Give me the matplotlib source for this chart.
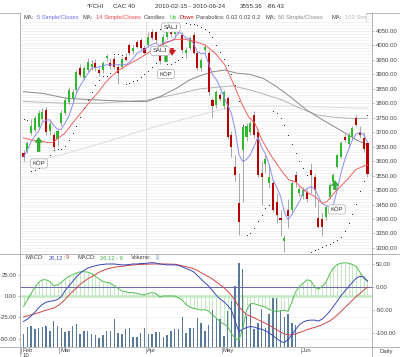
import numpy as np
import pandas as pd
import matplotlib
matplotlib.use("Agg")
import matplotlib.pyplot as plt
from matplotlib.lines import Line2D
from matplotlib.patches import Rectangle
from matplotlib.ticker import FormatStrFormatter
from matplotlib.transforms import Bbox, TransformedBbox, blended_transform_factory

plt.rcParams['font.family'] = ['Liberation Sans', 'DejaVu Sans']

# ---------------- data ----------------
holidays = ['2010-04-02', '2010-04-05']
dates = pd.bdate_range('2010-02-15', '2010-06-24')
dates = dates[~dates.isin(pd.to_datetime(holidays))]

opens = [3628, 3635, 3697, 3708, 3718, 3745, 3777, 3705, 3690, 3677,
         3732, 3767, 3805, 3815, 3846, 3922, 3888, 3915, 3925, 3940,
         3915, 3915, 3955, 3940, 3953, 3925, 3925, 3960, 4001, 3980,
         4012, 4019, 3990, 4002, 4046, 4046, 3985, 4000, 4030, 4045,
         4040, 4050, 4036, 3975, 3991, 4036, 3974, 3922, 3985, 3974,
         3811, 3795, 3830, 3790, 3818, 3690, 3580, 3455, 3639, 3685,
         3700, 3760, 3700, 3560, 3590, 3525, 3525, 3460, 3405, 3325,
         3430, 3431, 3552, 3490, 3480, 3495, 3570, 3545, 3405, 3400,
         3407, 3476, 3527, 3580, 3614, 3685, 3660, 3685, 3750, 3700,
         3680, 3663]
highs = [3640, 3670, 3746, 3755, 3775, 3782, 3787, 3742, 3700, 3712,
         3775, 3820, 3855, 3850, 3915, 3935, 3930, 3955, 3948, 3952,
         3925, 3945, 3972, 3955, 3962, 3935, 3960, 3975, 4010, 4000,
         4020, 4025, 4000, 4045, 4055, 4050, 3995, 4040, 4052, 4055,
         4065, 4078, 4045, 3995, 4032, 4045, 3980, 3958, 4005, 3985,
         3818, 3845, 3840, 3845, 3825, 3705, 3620, 3560, 3725, 3732,
         3740, 3772, 3710, 3600, 3620, 3585, 3535, 3490, 3430, 3345,
         3470, 3535, 3565, 3515, 3510, 3505, 3595, 3555, 3466, 3420,
         3450, 3525, 3560, 3625, 3670, 3695, 3700, 3720, 3760, 3720,
         3700, 3665]
lows = [3600, 3628, 3692, 3700, 3710, 3738, 3690, 3690, 3643, 3652,
        3722, 3760, 3798, 3800, 3840, 3890, 3880, 3908, 3915, 3912,
        3895, 3905, 3945, 3920, 3918, 3868, 3918, 3945, 3968, 3972,
        3990, 3985, 3970, 3995, 4018, 4010, 3935, 3995, 4022, 4030,
        4030, 4040, 3975, 3955, 3985, 3970, 3915, 3912, 3975, 3830,
        3750, 3785, 3808, 3780, 3675, 3615, 3530, 3345, 3460, 3670,
        3690, 3680, 3545, 3450, 3560, 3507, 3425, 3385, 3340, 3285,
        3370, 3420, 3510, 3480, 3470, 3460, 3490, 3440, 3370, 3340,
        3395, 3470, 3520, 3575, 3610, 3665, 3645, 3675, 3720, 3680,
        3630, 3545]
closes = [3614, 3663, 3722, 3749, 3766, 3770, 3701, 3728, 3648, 3705,
          3767, 3811, 3846, 3839, 3908, 3898, 3922, 3943, 3935, 3922,
          3905, 3940, 3965, 3930, 3925, 3905, 3953, 3950, 3974, 3990,
          3995, 3991, 3975, 4030, 4025, 4019, 3945, 4030, 4045, 4040,
          4058, 4062, 3984, 3985, 4025, 3974, 3922, 3950, 3995, 3839,
          3790, 3839, 3815, 3839, 3683, 3650, 3552, 3390, 3718, 3720,
          3732, 3690, 3552, 3545, 3607, 3545, 3431, 3415, 3395, 3335,
          3410, 3525, 3527, 3505, 3500, 3470, 3552, 3500, 3372, 3372,
          3441, 3517, 3552, 3621, 3663, 3673, 3690, 3715, 3725, 3690,
          3642, 3555]
volume_m = [78, 120, 126, 108, 114, 120, 126, 96, 156, 126,
            114, 90, 96, 126, 138, 78, 96, 96, 78, 72,
            54, 72, 96, 96, 168, 84, 78, 108, 114, 60,
            60, 84, 114, 78, 78, 90, 90, 60, 72, 96,
            108, 108, 180, 84, 114, 114, 174, 144, 96, 132,
            222, 168, 168, 66, 216, 276, 366, 504, 468, 186,
            258, 108, 144, 228, 114, 198, 294, 294, 216, 180,
            198, 144, 132, 0, 0, 0, 0, 0, 0, 0,
            0, 0, 0, 0, 0, 0, 0, 0, 0, 0,
            0, 0]
macd = [-75, -70, -63, -55, -45, -38, -33, -31, -30, -27,
        -21, -8, 2, 12, 22, 30, 36, 41, 44, 46,
        48, 49, 50, 50, 50, 49, 48, 48, 49, 50,
        50, 51, 51, 52, 53, 52, 50, 49, 48, 48,
        48, 47, 44, 40, 37, 33, 25, 17, 9, 2,
        -8, -18, -26, -32, -40, -50, -75, -97, -92, -88,
        -86, -87, -90, -92, -95, -100, -106, -112, -118, -121,
        -114, -104, -92, -82, -76, -73, -72, -72, -74, -70,
        -62, -53, -42, -31, -19, -9, 0, 10, 19, 23,
        22, 13]
macd_signal = [-65, -63, -60.5, -58.5, -56, -53, -50.5, -48, -46, -41,
               -35, -27, -18, -10, -2, 6, 12, 18, 22, 27,
               32, 36, 39, 41, 43, 44, 45, 46, 47, 48,
               48.5, 49, 49.5, 49.5, 50, 50, 50, 50, 50, 49.5,
               49.5, 48, 46, 44, 42, 40, 36, 31, 27, 22,
               17, 11, 5, -1, -9, -18, -30, -43, -52, -60,
               -63, -67, -71, -75, -79, -83, -88, -93, -98, -102,
               -104, -104, -102, -99, -96, -93, -90, -88, -85, -82,
               -78, -74, -68, -61, -53, -45, -37, -29, -21, -14,
               -7, 0]
macd_hist = [-12, -5, 3, 10, 16, 19, 19, 17, 12, 13,
             16, 20, 23, 25, 27, 28.5, 28.5, 28, 26.5, 23,
             20, 17, 16, 15, 12, 9, 6, 5, 4, 4,
             3, 2, 1, 3, 4, 3, -1, 0, 0, 0,
             0, -2, -5, -10, -13, -14.5, -15.5, -16.5, -16, -18,
             -22, -26, -30, -33, -36, -44, -50, -52, -38, -17,
             -9, -9, -10.5, -12, -13, -16, -17, -18.5, -17, -17,
             -18, -7, 5, 11, 15, 19, 18, 11, 8, 11,
             16, 26, 33, 37, 38.5, 39, 38.5, 37, 35, 28,
             21, 17]

ma14_day = [0, 2.1, 4.3, 6.5, 7.8, 9.1, 10.9, 12.6, 14.4, 16.2, 17.9, 19.7, 21.5, 23.2, 25, 26.8,
            28.5, 30.3, 32.1, 34.8, 37.4, 40.1, 42.7, 45.4, 48, 50.7, 53.3, 55.9, 57.7, 59.5, 61.2,
            63.1, 65.7, 68.4, 70.2, 71.9, 73.7, 75.4, 77.2, 79, 80.3, 82.1, 84.3, 86, 87.8, 89.6, 91]
ma14_val = [3680, 3673, 3670, 3664, 3664, 3679, 3696, 3725, 3754, 3783, 3811, 3837, 3869, 3892, 3913, 3927,
            3940, 3952, 3967, 3990, 4007, 4021, 4021, 4013, 4002, 3973, 3932, 3857, 3800, 3754, 3731,
            3673, 3615, 3564, 3535, 3529, 3506, 3489, 3477, 3454, 3460, 3489, 3518, 3541, 3570, 3581, 3587]
ma50_day = [0, 5.2, 11.4, 20.2, 29, 32.7, 36.1, 40.5, 44, 46.7, 50.1, 53.3, 56.4, 59.9, 63.4,
            67, 70.5, 74.9, 79.2, 83.7, 88.1, 91]
ma50_val = [3840, 3834, 3817, 3811, 3806, 3806, 3823, 3852, 3881, 3895, 3909, 3915, 3904, 3900, 3886,
            3857, 3823, 3777, 3742, 3708, 3673, 3656]
ma100_day = [0, 11.4, 20.2, 32.7, 41.4, 46.7, 55.4, 59.9, 64.3, 68.7, 73.1, 77.5, 81.9, 86.3, 91]
ma100_val = [3806, 3800, 3800, 3811, 3834, 3850, 3860, 3846, 3829, 3810, 3783, 3760, 3752, 3748, 3748]
ma200_day = [0, 7.3, 20.2, 33.5, 46.7, 55.4, 59.9, 68.7, 81.9, 91]
ma200_val = [3595, 3612, 3660, 3714, 3760, 3788, 3790, 3790, 3786, 3783]

sar_params = (0.02, 0.02, 0.2)
sar_start, sar_ep_start = 3745, 3565

sig_day = [4.1, 36.1, 37.7, 39.0, 82.9]
sig_text = ['KÖP', 'SÄLJ', 'KÖP', 'SÄLJ', 'KÖP']
sig_price = [3592, 3981, 3901, 4062, 3433]
arrow_day = [4, 37.7, 39.3, 82.4]
arrow_from = [3632, 3943, 3991, 3500]
arrow_to = [3684, 4002, 3964, 3535]

price_ticks = list(range(3300, 4051, 50))
hist_ticks = [25, 0, -25, -50]
macd_ticks = [50, 0, -50, -100]

# ---------------- helpers ----------------
def parabolic_sar(high, low, af0, step, afmax, sar0, ep0):
    n = len(high)
    out = np.zeros(n)
    trend, sar, ep, af = -1, sar0, ep0, af0
    out[0] = sar
    for t in range(1, n):
        s = sar + af * (ep - sar)
        if trend == 1:
            s = min(s, low[t - 1], low[max(t - 2, 0)])
            if low[t] < s:
                trend, s, ep, af = -1, ep, low[t], af0
            elif high[t] > ep:
                ep, af = high[t], min(af + step, afmax)
        else:
            s = max(s, high[t - 1], high[max(t - 2, 0)])
            if high[t] > s:
                trend, s, ep, af = 1, ep, high[t], af0
            elif low[t] < ep:
                ep, af = low[t], min(af + step, afmax)
        sar = s
        out[t] = s
    return out

W, H = 400, 357
def fx(px):
    return px / W
def fy(py):
    return 1 - py / H

n = len(closes)
xs = np.arange(n)
o = np.array(opens, float); hi = np.array(highs, float)
lo = np.array(lows, float); c = np.array(closes, float)
ma5 = pd.Series(closes, dtype=float).rolling(5, min_periods=1).mean()
sar = parabolic_sar(hi, lo, *sar_params, sar_start, sar_ep_start)

months = dates.month
month_idx = [0] + [i for i in range(1, n) if months[i] != months[i - 1]]
month_lbl = [dates[i].strftime('%b') for i in month_idx]
apr_idx = month_idx[month_lbl.index('Apr')]

TXT = '#444444'
FS = 4.3
GREEN = '#2dbb2d'
RED = '#b80000'

fig = plt.figure(figsize=(4, 3.57), dpi=100)
fig.patch.set_facecolor('white')

ax_p = fig.add_axes([fx(20), fy(254), (372 - 20) / W, (254 - 13) / H])
ax_m = fig.add_axes([fx(20), fy(347), (372 - 20) / W, (347 - 254) / H])
XL = (-0.93, 92.2)

# ---------------- price panel ----------------
ax_p.set_xlim(*XL)
ax_p.set_ylim(3279, 4112)
for v in range(3280, 4112, 10):
    ax_p.axhline(v, color='#eeeeee', lw=0.5, zorder=0)
ax_p.axvline(apr_idx - 0.5, color='#dddddd', lw=0.6, zorder=0)

ax_p.plot(ma200_day, ma200_val, color='#dcdcdc', lw=0.7, zorder=1)
ax_p.plot(ma100_day, ma100_val, color='#b4b4b4', lw=0.7, zorder=1)
ax_p.plot(ma50_day, ma50_val, color='#8a8a8a', lw=0.7, zorder=1)

ax_p.vlines(xs, lo, hi, color='#9a9a9a', lw=0.6, zorder=2)
up = c >= o
body_col = np.where(up, GREEN, RED)
ax_p.bar(xs, np.where(np.abs(c - o) < 2, 2, c - o), bottom=o, width=0.55,
         color=body_col, lw=0, zorder=3)

ax_p.plot(xs, ma5, color='#8c8cf2', lw=0.7, zorder=4)
ax_p.plot(ma14_day, ma14_val, color='#ee6262', lw=0.7, zorder=4)
ax_p.scatter(xs, sar, s=0.5, color='#222222', lw=0, zorder=5)

for d, a, b in zip(arrow_day, arrow_from, arrow_to):
    col = '#33aa33' if b > a else '#cc2020'
    ax_p.annotate('', xy=(d, b), xytext=(d, a),
                  arrowprops=dict(arrowstyle='simple,head_length=0.7,head_width=1.0,tail_width=0.4',
                                  color=col, lw=0, shrinkA=0, shrinkB=0, mutation_scale=6),
                  zorder=6)
for d, t, p in zip(sig_day, sig_text, sig_price):
    ax_p.text(d, p, t, fontsize=FS, color='#333333', ha='center', va='center', zorder=7,
              bbox=dict(boxstyle='round,pad=0.35', fc='white', ec='#aaaaaa', lw=0.5))

ax_p.yaxis.tick_right()
ax_p.set_yticks(price_ticks)
ax_p.yaxis.set_major_formatter(FormatStrFormatter('%.2f'))
ax_p.tick_params(axis='y', length=1.5, width=0.5, pad=1.2, labelsize=FS,
                 colors='#999999', labelcolor=TXT)
ax_p.set_xticks([])
for s in ax_p.spines.values():
    s.set_visible(False)

# ---------------- MACD / volume panel ----------------
ax_m.set_xlim(*XL)
ax_m.set_ylim(-59.9, 49.3)
for v in [-50, -37.5, -25, -12.5, 12.5, 25, 37.5]:
    ax_m.axhline(v, color='#f0f0f0', lw=0.5, zorder=0)
ax_m.axvline(apr_idx - 0.5, color='#dddddd', lw=0.6, zorder=0)
ax_m.vlines(xs, 0, macd_hist, color='#b5e4b5', lw=0.6, zorder=1)
ax_m.axhline(0, color='#c4e8c4', lw=1.8, zorder=1)
ax_m.yaxis.tick_left()
ax_m.set_yticks(hist_ticks)
ax_m.yaxis.set_major_formatter(FormatStrFormatter('%.2f'))
ax_m.tick_params(axis='y', length=1.5, width=0.5, pad=1.0, labelsize=FS,
                 colors='#999999', labelcolor=TXT)
ax_m.set_xticks([])

ax_v = ax_m.twinx()
ax_v.set_ylim(0, 558)
ax_v.bar(xs, volume_m, width=0.38, color='#5a7a9a', lw=0)
ax_v.set_yticks([])

ax_r = ax_m.twinx()
ax_r.set_ylim(-130.4, 71.7)
ax_r.axhline(0, color='#6868a8', lw=0.7)
ax_r.plot(xs, macd_hist, color='#52bf52', lw=0.7, transform=ax_m.transData)
ax_r.plot(xs, macd_signal, color='#d04646', lw=0.7)
ax_r.plot(xs, macd, color='#3a48bb', lw=0.7)
ax_r.set_yticks(macd_ticks)
ax_r.yaxis.set_major_formatter(FormatStrFormatter('%.2f'))
ax_r.tick_params(axis='y', length=1.5, width=0.5, pad=1.2, labelsize=FS,
                 colors='#999999', labelcolor=TXT)
for a in (ax_m, ax_v, ax_r):
    for s in a.spines.values():
        s.set_visible(False)
ax_v.set_xlim(*XL)
ax_r.set_xlim(*XL)

# ---------------- frame lines ----------------
for yy in (13, 254, 347):
    fig.add_artist(Line2D([0, 1], [fy(yy)] * 2, color='#a8a8a8', lw=0.6))
for xx in (20, 372):
    fig.add_artist(Line2D([fx(xx)] * 2, [fy(13), 0], color='#a8a8a8', lw=0.6))

# ---------------- x labels ----------------
tr = blended_transform_factory(ax_m.transData, fig.transFigure)
for i, lbl in zip(month_idx, month_lbl):
    fig.add_artist(Line2D([i - 0.55] * 2, [fy(347), fy(353)], transform=tr,
                          color='#a0a0a0', lw=0.6))
    fig.text(i - 0.25, fy(350.5), lbl, transform=tr, fontsize=FS, color=TXT,
             ha='left', va='center')
fig.text(month_idx[0] - 0.25, fy(355.5), dates[0].strftime('%y'), transform=tr,
         fontsize=FS, color=TXT, ha='left', va='center')
fig.text(fx(380), fy(351), 'Daily', fontsize=FS, color=TXT, ha='left', va='center')

# ---------------- title ----------------
title_parts = [('^FCHI', 87), ('CAC 40', 113), ('2010-02-15 - 2010-06-24', 155),
               ('3555.36', 240), ('-86.43', 267)]
for s, x in title_parts:
    fig.text(fx(x), fy(6.5), s, fontsize=4.5, color='#333333', ha='left', va='center')

# ---------------- top legend ----------------
fig.add_artist(Rectangle((fx(20.5), fy(21.5)), fx(366) - fx(20.5), fy(13.3) - fy(21.5),
                         transform=fig.transFigure, fc='white', ec='none', zorder=8))
fig.add_artist(Line2D([fx(366)] * 2, [fy(13), fy(21.5)], color='#cccccc', lw=0.5, zorder=8))
clip = TransformedBbox(Bbox.from_extents(fx(20.5), fy(21.5), fx(365.5), fy(13.3)), fig.transFigure)
legend_parts = [('MA:', 23.3, TXT), ('5 Simple/Closes', 36.7, '#6b6bf0'),
                ('MA:', 82.7, TXT), ('14 Simple/Closes', 96, '#e84848'),
                ('Candles:', 144, TXT), ('Up', 170, GREEN), (',', 177, TXT), ('Down', 180, RED),
                ('Parabolics: 0.02 0.02 0.2', 196, TXT),
                ('MA:', 265.7, TXT), ('50 Simple/Closes', 278, '#8a8a8a'),
                ('MA:', 331.7, TXT), ('100 Simple/Closes', 345, '#b4b4b4')]
for s, x, col in legend_parts:
    t = fig.text(fx(x), fy(17.2), s, fontsize=4.15, color=col, ha='left', va='center', zorder=9)
    t.set_clip_box(clip)
    t.set_clip_on(True)

# ---------------- MACD legend ----------------
macd_legend = [('MACD:', 25, TXT), ('26,12', 48.7, '#4a55c0'), (':', 63.5, TXT), ('9', 66, '#d04040'),
               ('MACD:', 77, TXT), ('26,12 - 9', 99.7, '#44b044'),
               ('Volume:', 130.5, TXT), ('|||', 155, '#9ab0c8')]
for s, x, col in macd_legend:
    fig.text(fx(x), fy(257.3), s, fontsize=4.15, color=col, ha='left', va='center')

fig.savefig('out.png', dpi=100, facecolor='white')
